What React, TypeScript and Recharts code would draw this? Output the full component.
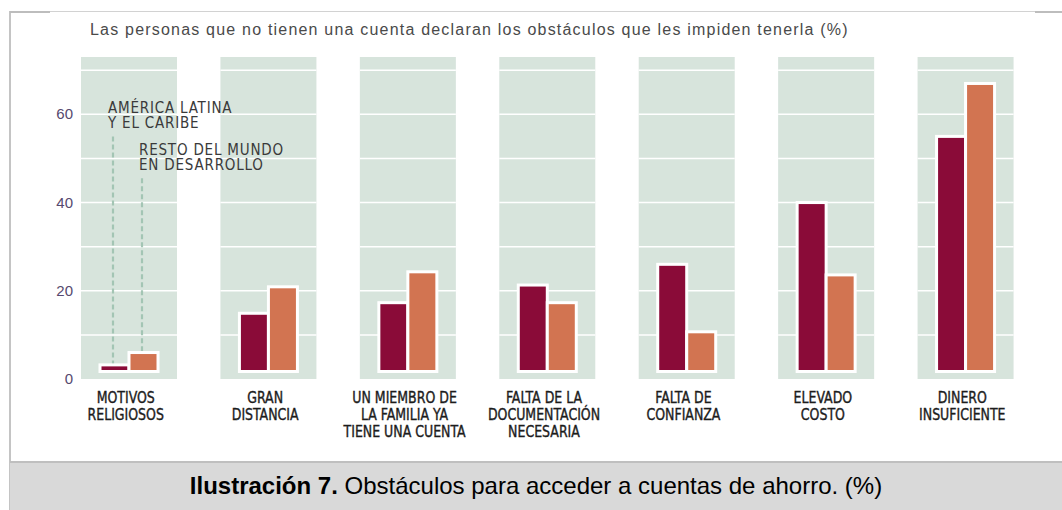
import { BarChart, Bar, XAxis, YAxis } from 'recharts';

const categories = [
  'MOTIVOS\nRELIGIOSOS',
  'GRAN\nDISTANCIA',
  'UN MIEMBRO DE\nLA FAMILIA YA\nTIENE UNA CUENTA',
  'FALTA DE LA\nDOCUMENTACIÓN\nNECESARIA',
  'FALTA DE\nCONFIANZA',
  'ELEVADO\nCOSTO',
  'DINERO\nINSUFICIENTE',
];
const latam = [3.2, 14.9, 17.3, 21.3, 26, 40, 55];
const resto = [6, 20.9, 24.3, 17.3, 10.7, 23.6, 67];
const yTicks = [0, 20, 40, 60];
const gridValues = [10, 20, 30, 40, 50, 60, 70];
const yMax = 73;

// heights (in axis units) where the dashed leader lines of the legend stop
const latamLabelLevel = 55;
const restoLabelLevel = 45.5;

const data = categories.map((name, i) => ({ name, latam: latam[i], resto: resto[i], band: yMax }));

const NARROW = "'Liberation Sans Narrow', 'Arial Narrow', 'DejaVu Sans Condensed', sans-serif";
const SANS = "'Liberation Sans', Arial, sans-serif";

const BandShape = (props: any) => {
  const { x, y, width, height } = props;
  const ppu = height / yMax;
  const zeroY = y + height;
  return (
    <g>
      <rect x={x} y={y} width={width} height={height} fill="#d7e4dc" />
      {gridValues.map((v) => (
        <line key={v} x1={x} x2={x + width} y1={zeroY - v * ppu} y2={zeroY - v * ppu} stroke="#fff" strokeWidth={1.5} />
      ))}
    </g>
  );
};

const makeBarShape = (fill: string, level: number, lines: string[], labelDx: number) => (props: any) => {
  const { x, y, width, height, index, value } = props;
  const v = Array.isArray(value) ? value[1] - value[0] : value;
  const ppu = v ? height / v : 0;
  const zeroY = y + height;
  const cx = x + width / 2 - 1.5;
  const lineTop = zeroY - level * ppu;
  return (
    <g>
      {index === 0 && (
        <g>
          <line x1={cx} x2={cx} y1={lineTop} y2={y - 1} stroke="#a3c5b4" strokeWidth={2.2} strokeDasharray="5 3" />
          <text
            x={cx + labelDx}
            y={lineTop - 23}
            fontFamily={NARROW}
            fontSize={15}
            letterSpacing={0.8}
            fill="#3a3a3a"
          >
            {lines.map((l, i) => (
              <tspan key={i} x={cx + labelDx} dy={i === 0 ? 0 : 15}>
                {l}
              </tspan>
            ))}
          </text>
        </g>
      )}
      <rect x={x} y={y} width={width} height={Math.max(height - 7.5, 0)} fill={fill} stroke="#fff" strokeWidth={3} />
    </g>
  );
};

const LatamShape = makeBarShape('#8a0b38', latamLabelLevel, ['AMÉRICA LATINA', 'Y EL CARIBE'], -5);
const RestoShape = makeBarShape('#d27451', restoLabelLevel, ['RESTO DEL MUNDO', 'EN DESARROLLO'], -3);

const XTick = ({ x, y, payload }: any) => {
  const lines = String(payload.value).split('\n');
  return (
    <g transform={`translate(${x - 3}, ${y + 24}) scale(0.93, 1)`}>
      <text
        x={0}
        y={0}
        textAnchor="middle"
        fontFamily={NARROW}
        fontSize={15}
        fill="#1c1c1c"
        stroke="#1c1c1c"
        strokeWidth={0.35}
      >
        {lines.map((l, i) => (
          <tspan key={i} x={0} dy={i === 0 ? 0 : 17}>
            {l}
          </tspan>
        ))}
      </text>
    </g>
  );
};

const YTick = ({ x, y, payload }: any) => (
  <text x={x + 14} y={y + 5} textAnchor="end" fontFamily={SANS} fontSize={15} fill="#56496e">
    {payload.value}
  </text>
);

export default function App() {
  return (
    <div style={{ position: 'absolute', left: 0, top: 0, width: 1062, height: 510, background: '#fff', overflow: 'hidden' }}>
      <div style={{ position: 'absolute', left: 9, top: 11, width: 2, height: 499, background: '#c4c4c4' }} />
      <div style={{ position: 'absolute', left: 10, top: 11, width: 40, height: 2, background: '#bdbdbd' }} />
      <div style={{ position: 'absolute', left: 50, top: 11, width: 985, height: 1, background: '#d2d2d2' }} />
      <div style={{ position: 'absolute', left: 1035, top: 11, width: 27, height: 2, background: '#bdbdbd' }} />
      <div
        style={{
          position: 'absolute',
          left: 90,
          top: 21,
          fontFamily: SANS,
          fontSize: 16,
          lineHeight: '18px',
          letterSpacing: 1.2,
          color: '#4a4a4a',
          whiteSpace: 'nowrap',
        }}
      >
        Las personas que no tienen una cuenta declaran los obstáculos que les impiden tenerla (%)
      </div>
      <div style={{ position: 'absolute', left: 0, top: 0 }}>
        <BarChart width={1062} height={460} data={data} margin={{ top: 57, right: 27, bottom: 0, left: 39 }} barGap={0}>
          <XAxis xAxisId="bg" dataKey="name" hide height={0} />
          <XAxis
            xAxisId="main"
            dataKey="name"
            height={81}
            axisLine={false}
            tickLine={false}
            tickSize={0}
            tickMargin={0}
            interval={0}
            tick={<XTick />}
          />
          <YAxis
            domain={[0, yMax]}
            ticks={yTicks}
            width={20}
            axisLine={false}
            tickLine={false}
            tickSize={0}
            tickMargin={0}
            tick={<YTick />}
          />
          <Bar xAxisId="bg" dataKey="band" barSize={96} shape={<BandShape />} isAnimationActive={false} />
          <Bar
            xAxisId="main"
            dataKey="latam"
            name="América Latina y el Caribe"
            barSize={29}
            fill="#8a0b38"
            shape={LatamShape}
            isAnimationActive={false}
          />
          <Bar
            xAxisId="main"
            dataKey="resto"
            name="Resto del mundo en desarrollo"
            barSize={29}
            fill="#d27451"
            shape={RestoShape}
            isAnimationActive={false}
          />
        </BarChart>
      </div>
      <div
        style={{
          position: 'absolute',
          left: 10,
          top: 461,
          width: 1052,
          height: 45,
          background: '#d9d9d9',
          borderTop: '2px solid #bfbfbf',
          borderBottom: '2px solid #d9d9d9',
          display: 'flex',
          alignItems: 'center',
          justifyContent: 'center',
          fontFamily: SANS,
          fontSize: 24,
          color: '#000',
          whiteSpace: 'nowrap',
        }}
      >
        <b>Ilustración 7.</b>&nbsp;Obstáculos para acceder a cuentas de ahorro. (%)
      </div>
    </div>
  );
}
